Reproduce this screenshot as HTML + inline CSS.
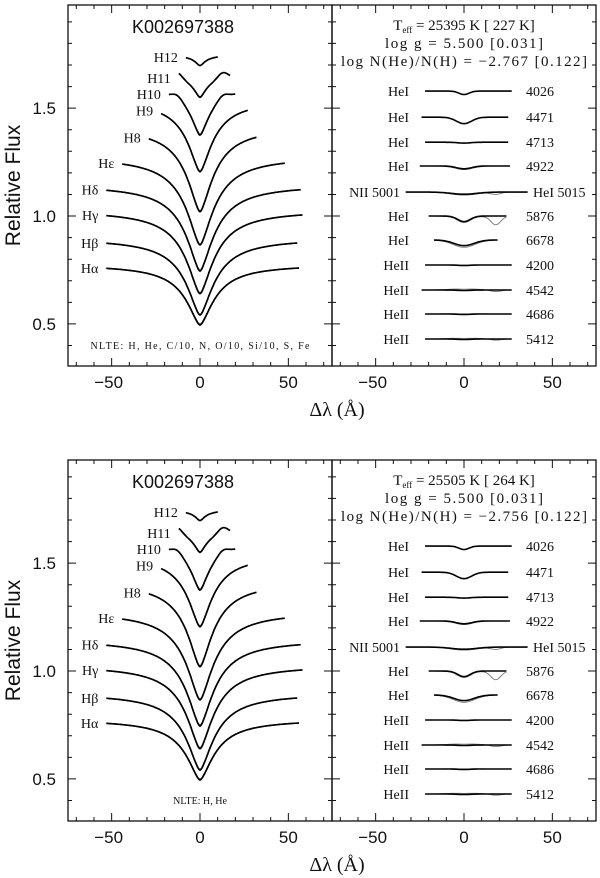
<!DOCTYPE html>
<html><head><meta charset="utf-8">
<style>
html,body{margin:0;padding:0;background:#fff;}
svg{display:block;}
text{fill:#111;}
.tk{font-family:"Liberation Sans",sans-serif;font-size:17px;}
.sf{font-family:"Liberation Serif",serif;}
</style></head>
<body>
<svg id="fig" width="600" height="878" viewBox="0 0 600 878" xmlns="http://www.w3.org/2000/svg"></svg>
<script>
// ---- Balmer line data (panel values, relative flux) ----
const balmerNames = ['Hα','Hβ','Hγ','Hδ','Hε','H8','H9','H10','H11','H12'];
const balmerCont  = [0.759,0.875,1.005,1.122,1.245,1.365,1.490,1.565,1.640,1.737];
const balmerCore  = [0.495,0.541,0.640,0.745,0.866,1.020,1.205,1.375,1.550,1.697];
const balmerObsCore = [0.500,0.545,0.645,0.750,0.870,1.025,1.210,1.380,1.553,1.698];
const balmerLeft  = [-53,-53,-53,-53,-44,-29,-22,-17.6,-12,-8];
const balmerRight = [56,55,58,57,48,32,27,20,17,10];
const balmerWidth = [10,10,10,10,10,9.5,9,7,5,4];
const balmerHump  = [0,0,0,0,0,0,0,0.02,0.03,0];
// ---- He line data ----
const heLabels = ['HeI','HeI','HeI','HeI','NII 5001','HeI','HeI','HeII','HeII','HeII','HeII'];
const heWaves  = ['4026','4471','4713','4922','HeI 5015','5876','6678','4200','4542','4686','5412'];
const heLevel  = [1.579,1.458,1.342,1.232,1.111,1.000,0.889,0.773,0.657,0.546,0.430];
const heLeft   = [-22,-24,-22,-25,-33,-20,-17,-22,-24,-22,-22];
const heRight  = [27,25,25,26,36,24,19,27,27,27,27];
const heDepth  = [0.016,0.030,0.004,0.013,0.010,0.026,0.026,0.002,0.002,0.002,0.002];
const heWidth  = [4,6,5,6,10,5,8,5,5,5,5];
const heObsShift = [0,0,0,-0.004,-0.004,-0.004,-0.008,0,0.006,0.002,0.005];
const heObsDip2  = [0,0,0,0,0.010,0.040,0,0,0.008,0,0.006];
// ---- panel info ----
const panelTeff = ['25395 K [ 227 K]','25505 K [ 264 K]'];
const panelLogg = ['5.500 [0.031]','5.500 [0.031]'];
const panelHe   = ['−2.767 [0.122]','−2.756 [0.122]'];
const panelNlte = ['NLTE: H, He, C/10, N, O/10, Si/10, S, Fe','NLTE: H, He'];
const xTicks = [-50,0,50];
const yTicks = [0.5,1.0,1.5];

const NS='http://www.w3.org/2000/svg';
const svg=document.getElementById('fig');
function el(tag,attrs,parent){const e=document.createElementNS(NS,tag);for(const k in attrs)e.setAttribute(k,attrs[k]);(parent||svg).appendChild(e);return e;}

const XMIN=-74.7,XMAX=74.7,YMIN=0.305,YMAX=1.978;
const BW=264,PH=361;
function sx(x0,d){return x0+(d-XMIN)/(XMAX-XMIN)*BW;}
function sy(top,v){return top+(YMAX-v)/(YMAX-YMIN)*PH;}

function lor(x,w){return 1/(1+Math.pow(Math.abs(x)/w,1.6));}
function balmerVal(i,x,core){
  const xe=Math.max(-balmerLeft[i],balmerRight[i]);
  const Le=lor(xe,balmerWidth[i]);
  const d=balmerCont[i]-core;
  let v=balmerCont[i]-d*(lor(x,balmerWidth[i])-Le)/(1-Le);
  v+=balmerHump[i]*Math.exp(-Math.pow((Math.abs(x)-13)/4,2));
  return v;
}
function heVal(i,x,obs){
  let v=heLevel[i]-heDepth[i]*Math.exp(-Math.pow(x/heWidth[i],2));
  if(obs){v+=heObsShift[i]*Math.exp(-Math.pow(x/12,2));v-=heObsDip2[i]*Math.exp(-Math.pow((x-18)/4,2));}
  return v;
}

function ticks(g,x0,top){
  let d='';
  for(let t=-70;t<=70;t+=10){const X=sx(x0,t);const L=(t%50===0)?8:4;d+=`M${X} ${top+PH}v${-L}M${X} ${top}v${L}`;}
  for(let v=0.4;v<=1.95;v+=0.1){const r=Math.round(v*10)/10;const Y=sy(top,r);const L=(Math.abs(r*2-Math.round(r*2))<1e-6)?8:4;d+=`M${x0} ${Y}h${L}M${x0+BW} ${Y}h${-L}`;}
  const p=el('path',{d:d,stroke:'#111','stroke-width':1,fill:'none'},g);
  
  
}

function panel(pi,top){
  const g=el('g',{});
  
  
  const L0=68,R0=332;
  [L0,R0].forEach((x0,k)=>{
    const r=el('rect',{x:x0,y:top,width:BW,height:PH,fill:'none',stroke:'#111','stroke-width':1.3},g);
    
    
    ticks(g,x0,top);
    xTicks.forEach(t=>{
      const tx=el('text',{x:sx(x0,t)-(t<0?3:0),y:top+PH+22,'text-anchor':'middle',class:'tk'},g);
      tx.textContent=t<0?'−'+Math.abs(t):String(t);
      
      
    });
  });
  yTicks.forEach(v=>{
    const tx=el('text',{x:56,y:sy(top,v)+6,'text-anchor':'end',class:'tk'},g);
    tx.textContent=v.toFixed(1);
    
    
  });
  const yl=el('text',{x:0,y:0,transform:`translate(20,${top+PH/2}) rotate(-90)`,'text-anchor':'middle',class:'tk'},g);
  yl.setAttribute('style','font-size:21px');
  yl.textContent='Relative Flux';
  
  
  const xl=el('text',{x:337,y:top+PH+50,'text-anchor':'middle',class:'sf','font-size':'20px'},g);
  xl.textContent='Δλ  (Å)';
  
  
  const st=el('text',{x:183,y:top+28,'text-anchor':'middle',class:'tk'},g);
  st.setAttribute('style','font-size:18px');
  st.textContent='K002697388';
  
  
  const nl=el('text',{x:200,y:top+344,'text-anchor':'middle',class:'sf','font-size':'10px'},g);
  nl.textContent=panelNlte[pi];
  if(pi===0)nl.setAttribute('textLength','219');
  
  
  balmerNames.forEach((n,i)=>{
    ['obs','model'].forEach(kind=>{
      let d='';
      for(let x=balmerLeft[i];x<=balmerRight[i]+1e-6;x+=0.5){
        const v=balmerVal(i,x,kind==='obs'?balmerObsCore[i]:balmerCore[i]);
        d+=(d?'L':'M')+sx(L0,x).toFixed(1)+' '+sy(top,v).toFixed(1);
      }
      const p=el('path',{d:d,fill:'none',stroke:kind==='obs'?'#777':'#000','stroke-width':kind==='obs'?0.9:1.7},g);
      
      
    });
    const lb=el('text',{x:sx(L0,balmerLeft[i])-8,y:sy(top,balmerCont[i])+5,'text-anchor':'end',class:'sf','font-size':'14px'},g);
    lb.textContent=n;
    
    
  });
  const h1=el('text',{x:464,y:top+25,'text-anchor':'middle',class:'sf','font-size':'15px'},g);
  h1.innerHTML='T<tspan font-size="9" dy="3">eff</tspan><tspan dy="-3"> = '+panelTeff[pi]+'</tspan>';
  
  
  const h2=el('text',{x:464,y:top+43,'text-anchor':'middle',class:'sf','font-size':'15px',textLength:'158'},g);
  h2.textContent='log g = '+panelLogg[pi];
  
  
  const h3=el('text',{x:464,y:top+61,'text-anchor':'middle',class:'sf','font-size':'15px',textLength:'246'},g);
  h3.textContent='log N(He)/N(H) = '+panelHe[pi];
  
  
  heLabels.forEach((n,i)=>{
    ['obs','model'].forEach(kind=>{
      let d='';
      for(let x=heLeft[i];x<=heRight[i]+1e-6;x+=0.5){
        const v=heVal(i,x,kind==='obs');
        d+=(d?'L':'M')+sx(R0,x).toFixed(1)+' '+sy(top,v).toFixed(1);
      }
      const p=el('path',{d:d,fill:'none',stroke:kind==='obs'?'#777':'#000','stroke-width':kind==='obs'?0.9:1.6},g);
      
      
    });
    const Y=sy(top,heLevel[i])+5;
    const isN=n.indexOf(' ')>0;
    const lb=el('text',{x:isN?400:409,y:Y,'text-anchor':'end',class:'sf','font-size':'14px'},g);
    lb.textContent=n;
    
    
    const wl=el('text',{x:isN?533:526,y:Y,'text-anchor':'start',class:'sf','font-size':'14px'},g);
    wl.textContent=heWaves[i];
    
    
  });
}
panel(0,5);
panel(1,460);
</script>
</body></html>
